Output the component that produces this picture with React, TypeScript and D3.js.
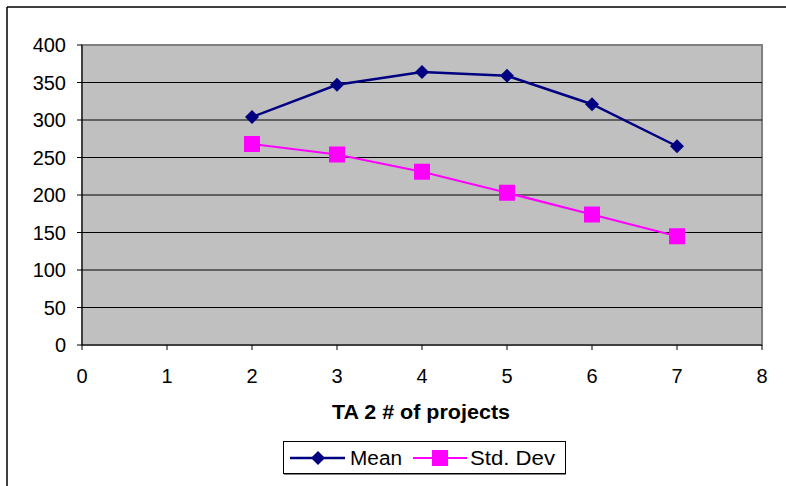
import React from "react";
import * as d3 from "d3";

const xValues = [2, 3, 4, 5, 6, 7];
const meanValues = [304, 347, 364, 359, 321, 265];
const stdValues = [268, 254, 231, 203, 174, 145];
const xTicks = [0, 1, 2, 3, 4, 5, 6, 7, 8];
const yTicks = [0, 50, 100, 150, 200, 250, 300, 350, 400];
const seriesNames = ["Mean", "Std. Dev"];
const xTitle = "TA 2 # of projects";

const W = 786;
const H = 486;
const L = 82, R = 762, T = 45, B = 345;
const FONT = "Arial, 'Liberation Sans', sans-serif";
const NAVY = "#000080";
const MAG = "#FF00FF";

export default function App() {
  const x = d3.scaleLinear().domain([0, 8]).range([L, R]);
  const y = d3.scaleLinear().domain([0, 400]).range([B, T]);
  const line = d3
    .line<[number, number]>()
    .x((d) => x(d[0]))
    .y((d) => y(d[1]));
  const meanPts: [number, number][] = xValues.map((v, i) => [v, meanValues[i]]);
  const stdPts: [number, number][] = xValues.map((v, i) => [v, stdValues[i]]);

  const diamond = (cx: number, cy: number, r: number) =>
    `M${cx},${cy - r}L${cx + r},${cy}L${cx},${cy + r}L${cx - r},${cy}Z`;

  return (
    <svg
      width={W}
      height={H}
      style={{ position: "absolute", left: 0, top: 0, background: "#fff" }}
      fontFamily={FONT}
    >
      <rect x={0} y={0} width={W} height={H} fill="#fff" />
      {/* outer chart border */}
      <line x1={7} y1={7} x2={W + 5} y2={7} stroke="#000" strokeWidth={1.5} />
      <line x1={7} y1={7} x2={7} y2={H + 5} stroke="#000" strokeWidth={1.5} />
      {/* plot area */}
      <rect x={L} y={T} width={R - L} height={B - T} fill="#C0C0C0" stroke="#808080" strokeWidth={2} />
      {yTicks.slice(1, -1).map((t) => (
        <line key={t} x1={L} x2={R} y1={y(t)} y2={y(t)} stroke="#000" strokeWidth={1} />
      ))}
      {/* axes */}
      <line x1={L} x2={L} y1={T} y2={B} stroke="#000" strokeWidth={1} />
      <line x1={L} x2={R} y1={B} y2={B} stroke="#000" strokeWidth={1} />
      {yTicks.map((t) => (
        <g key={"y" + t}>
          <line x1={L - 5} x2={L} y1={y(t)} y2={y(t)} stroke="#000" />
          <text x={66} y={y(t)} dy="0.36em" textAnchor="end" fontSize={20} fill="#000">
            {t}
          </text>
        </g>
      ))}
      {xTicks.map((t) => (
        <g key={"x" + t}>
          <line x1={x(t)} x2={x(t)} y1={B} y2={B + 5} stroke="#000" />
          <text x={x(t)} y={383} textAnchor="middle" fontSize={20} fill="#000">
            {t}
          </text>
        </g>
      ))}
      <text x={332} y={419} fontSize={20} fontWeight="bold" fill="#000" textLength={178} lengthAdjust="spacingAndGlyphs">
        {xTitle}
      </text>
      {/* series */}
      <path d={line(meanPts) || ""} fill="none" stroke={NAVY} strokeWidth={2.5} />
      <path d={line(stdPts) || ""} fill="none" stroke={MAG} strokeWidth={2.2} />
      {meanPts.map((p, i) => (
        <path key={"m" + i} d={diamond(x(p[0]), y(p[1]), 7)} fill={NAVY} />
      ))}
      {stdPts.map((p, i) => (
        <rect key={"s" + i} x={x(p[0]) - 8} y={y(p[1]) - 8} width={16} height={16} fill={MAG} />
      ))}
      {/* legend */}
      <rect x={283.5} y={441.5} width={282} height={32} fill="#fff" stroke="#000" strokeWidth={1} />
      <line x1={284} x2={566} y1={474.5} y2={474.5} stroke="#808080" strokeWidth={1} />
      <line x1={290} x2={345} y1={458} y2={458} stroke={NAVY} strokeWidth={2.5} />
      <path d={diamond(318, 458, 7)} fill={NAVY} />
      <text x={350} y={465} fontSize={20} fill="#000" textLength={52} lengthAdjust="spacingAndGlyphs">{seriesNames[0]}</text>
      <line x1={413} x2={467} y1={458} y2={458} stroke={MAG} strokeWidth={2.2} />
      <rect x={432} y={450} width={16} height={16} fill={MAG} />
      <text x={470} y={465} fontSize={20} fill="#000" textLength={85} lengthAdjust="spacingAndGlyphs">{seriesNames[1]}</text>
    </svg>
  );
}
